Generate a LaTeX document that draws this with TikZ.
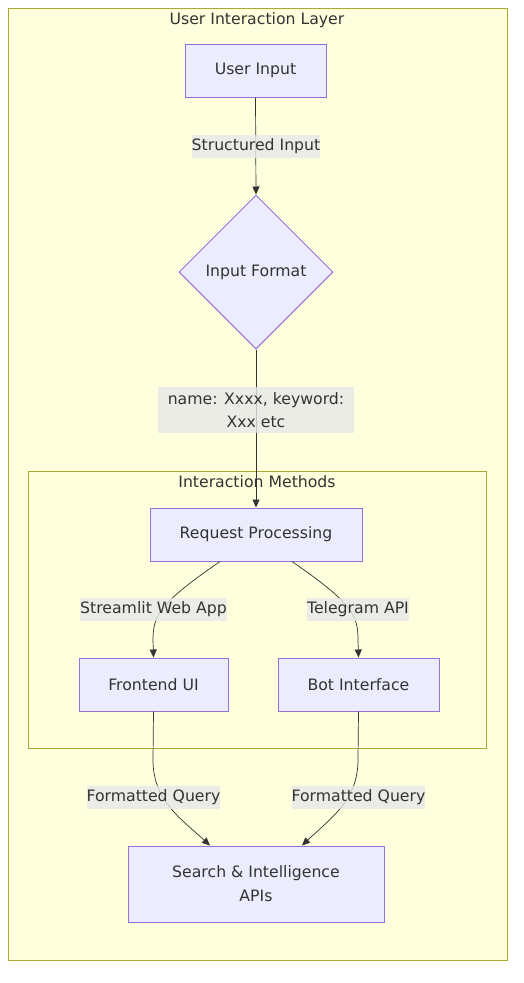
\documentclass[tikz,border=0pt]{standalone}
\usepackage{fontspec}
\setmainfont{DejaVu Sans}
\usetikzlibrary{shapes.geometric,arrows.meta}
\definecolor{clfill}{HTML}{FFFFDE}
\definecolor{clline}{HTML}{AAAA33}
\definecolor{ndfill}{HTML}{ECECFF}
\definecolor{ndline}{HTML}{9370DB}
\definecolor{txt}{HTML}{333333}
\definecolor{lblbg}{HTML}{E8E8E8}
\tikzset{
  cluster/.style={draw=clline,fill=clfill,line width=1pt},
  box/.style={draw=ndline,fill=ndfill,line width=1pt,inner sep=0pt,text=txt,align=center,font=\fontsize{15.7}{24}\selectfont},
  dia/.style={diamond,draw=ndline,fill=ndfill,line width=1pt,inner sep=0pt,minimum width=154pt,minimum height=154pt,text=txt,font=\fontsize{15.7}{19}\selectfont},
  lbl/.style={fill=lblbg,fill opacity=0.8,text opacity=1,inner sep=0pt,text=txt,align=center,font=\fontsize{15.7}{23}\selectfont},
  ttl/.style={text=txt,font=\fontsize{15.7}{19}\selectfont},
  edge/.style={draw=txt,line width=0.7pt,-{Triangle[length=8pt,width=7pt]}}
}
\begin{document}
\begin{tikzpicture}[x=1pt,y=-1pt]
\useasboundingbox (0,0) rectangle (523,983);
\fill[white] (0,0) rectangle (523,983);
\draw[cluster] (8,8) rectangle (507,960);
\node[ttl] (t1) at (257,20) {User Interaction Layer};
\draw[cluster] (28,471) rectangle (486,748);
\node[ttl] (t2) at (257,482) {Interaction Methods};

\node[box,minimum width=141pt,minimum height=53pt] (ui) at (255.5,70.5) {User Input};
\node[dia] (if) at (256,272) {Input Format};
\node[box,minimum width=212pt,minimum height=53pt] (rp) at (256,534.5) {Request Processing};
\node[box,minimum width=149pt,minimum height=53pt] (fe) at (153.5,684.5) {Frontend UI};
\node[box,minimum width=161pt,minimum height=53pt] (bi) at (358.5,684.5) {Bot Interface};
\node[box,minimum width=256pt,minimum height=76pt] (sa) at (256,884) {Search \& Intelligence\\APIs};

\draw[edge] (ui.south) -- (if.north);
\draw[edge] (if.south) -- (rp.north);
\draw[edge] ([xshift=-36pt]rp.south) .. controls (160,603) and (153,615) .. (153,640) -- (fe.north);
\draw[edge] ([xshift=36pt]rp.south) .. controls (352,603) and (358,615) .. (358,640) -- (bi.north);
\draw[edge] (fe.south) -- (153,760) .. controls (153,800) and (180,818) .. ([xshift=-46pt]sa.north);
\draw[edge] (bi.south) -- (358,760) .. controls (358,800) and (331,818) .. ([xshift=46pt]sa.north);

\node[lbl,minimum width=128pt,minimum height=23pt] (l1) at (256,146.5) {Structured Input};
\node[lbl,minimum width=196pt,minimum height=46pt] (l2) at (256,410) {name: Xxxx, keyword:\\Xxx etc};
\node[lbl,minimum width=147pt,minimum height=23pt] (l3) at (153.5,609) {Streamlit Web App};
\node[lbl,minimum width=102pt,minimum height=23pt] (l4) at (358,609) {Telegram API};
\node[lbl,minimum width=133pt,minimum height=23pt] (l5) at (153.5,797.5) {Formatted Query};
\node[lbl,minimum width=133pt,minimum height=23pt] (l6) at (358.5,797.5) {Formatted Query};
\end{tikzpicture}
\end{document}
